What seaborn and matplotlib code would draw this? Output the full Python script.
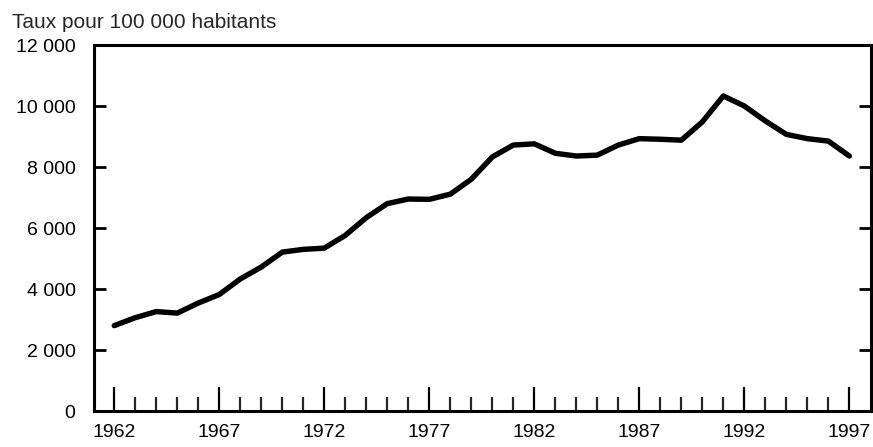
import matplotlib
matplotlib.use('Agg')
import pandas as pd
import numpy as np
import matplotlib.pyplot as plt
import seaborn as sns
from matplotlib.ticker import FixedLocator

# Donnees
annees = list(range(1962, 1998))
taux = [2800, 3060, 3260, 3210, 3540, 3820, 4330, 4720, 5210, 5300, 5340, 5760,
        6340, 6800, 6950, 6940, 7110, 7600, 8330, 8720, 8760, 8450, 8360, 8390,
        8720, 8930, 8910, 8880, 9480, 10330, 10000, 9510, 9070, 8930, 8850, 8360]

y_ticks = [0, 2000, 4000, 6000, 8000, 10000, 12000]
y_labels = ['0', '2 000', '4 000', '6 000', '8 000', '10 000', '12 000']
x_major = [1962, 1967, 1972, 1977, 1982, 1987, 1992, 1997]
titre = 'Taux pour 100 000 habitants'

df = pd.DataFrame({'annee': annees, 'taux': taux})

sns.set_style('ticks')
plt.rcParams['font.family'] = ['Liberation Sans', 'DejaVu Sans']

fig = plt.figure(figsize=(8.73, 4.47), dpi=100)
ax = fig.add_axes([0.1073, 0.0805, 0.8904, 0.8188])

sns.lineplot(data=df, x='annee', y='taux', color='black', linewidth=3.9, ax=ax)

ax.set_xlim(1961.02, 1998.03)
ax.set_ylim(0, 12000)

ax.set_yticks(y_ticks)
ax.set_yticklabels(y_labels, fontsize=14)
ax.set_xticks(x_major)
ax.set_xticklabels([str(a) for a in x_major], fontsize=14)
ax.xaxis.set_minor_locator(FixedLocator([a for a in annees if a not in x_major]))

ax.tick_params(axis='x', which='major', direction='in', length=17, width=1.6,
               pad=9.5, top=False, bottom=True, colors='black')
ax.tick_params(axis='x', which='minor', direction='in', length=10, width=1.6,
               top=False, bottom=True)
ax.tick_params(axis='y', which='major', direction='in', length=8.5, width=2,
               pad=13, left=True, right=True, colors='black')

for s in ax.spines.values():
    s.set_visible(True)
    s.set_linewidth(2.2)
    s.set_color('black')

ax.set_xlabel('')
ax.set_ylabel('')

fig.text(12 / 873, 1 - 28 / 447, titre, fontsize=15, ha='left', va='baseline')

fig.savefig('out.png', dpi=100)
